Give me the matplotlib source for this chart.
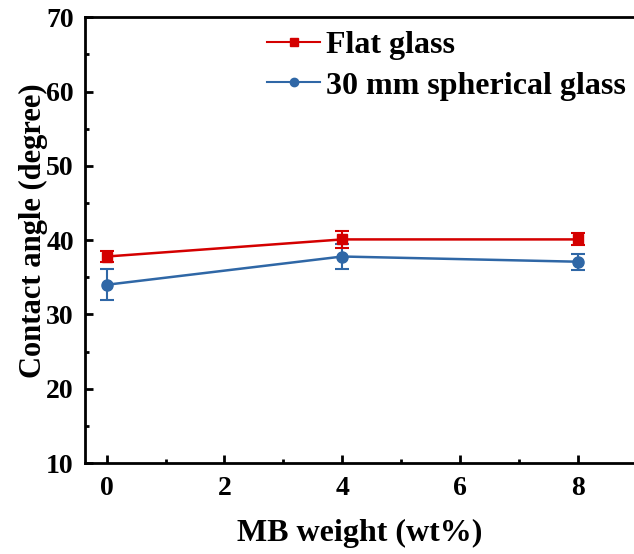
import matplotlib
matplotlib.use('Agg')
import matplotlib.pyplot as plt
from matplotlib.lines import Line2D
from matplotlib.ticker import MultipleLocator

mb_weight = [0, 4, 8]
flat_angle = [37.8, 40.1, 40.1]
flat_err = [0.8, 1.1, 0.8]
sphere_angle = [34.0, 37.8, 37.1]
sphere_err = [2.1, 1.7, 1.1]

plt.rcParams['font.family'] = ['Liberation Serif', 'DejaVu Serif']
plt.rcParams['font.weight'] = 'bold'

red = '#d40000'
blue = '#2f67a6'

fig = plt.figure(figsize=(6.34, 5.54), dpi=100)
ax = fig.add_axes([0.134, 0.164, 0.898, 0.805])

ax.errorbar(mb_weight, flat_angle, yerr=flat_err, color=red, marker='s',
            ms=7, lw=1.8, capsize=5, capthick=1.5, elinewidth=1.5, zorder=3)
ax.errorbar(mb_weight, sphere_angle, yerr=sphere_err, color=blue, marker='o',
            ms=8, lw=1.8, capsize=5, capthick=1.5, elinewidth=1.5, zorder=2)

ax.set_xlim(-0.37, 9.3)
ax.set_ylim(10, 70)
ax.xaxis.set_major_locator(MultipleLocator(2))
ax.xaxis.set_minor_locator(MultipleLocator(1))
ax.yaxis.set_major_locator(MultipleLocator(10))
ax.yaxis.set_minor_locator(MultipleLocator(5))
ax.tick_params(which='both', direction='in', width=2, labelsize=20)
ax.tick_params(which='major', length=6)
ax.tick_params(which='minor', length=3)
ax.tick_params(axis='x', pad=9)
ax.tick_params(axis='y', pad=8)
for s in ax.spines.values():
    s.set_linewidth(2)

ax.set_xlabel('MB weight (wt%)', fontsize=23, fontweight='bold')
ax.xaxis.set_label_coords(0.483, -0.125)
ax.set_ylabel('Contact angle (degree)', fontsize=22, fontweight='bold')
ax.yaxis.set_label_coords(-0.065, 0.522)

handles = [
    Line2D([], [], color=red, marker='s', ms=6, lw=1.5),
    Line2D([], [], color=blue, marker='o', ms=6, lw=1.5),
]
ax.legend(handles, ['Flat glass', '30 mm spherical glass'],
          loc='upper left', bbox_to_anchor=(0.281, 1.02), frameon=False,
          fontsize=23, handlelength=1.65, handletextpad=0.2,
          labelspacing=0.35, borderaxespad=0.3)

fig.savefig('out.png', dpi=100)
